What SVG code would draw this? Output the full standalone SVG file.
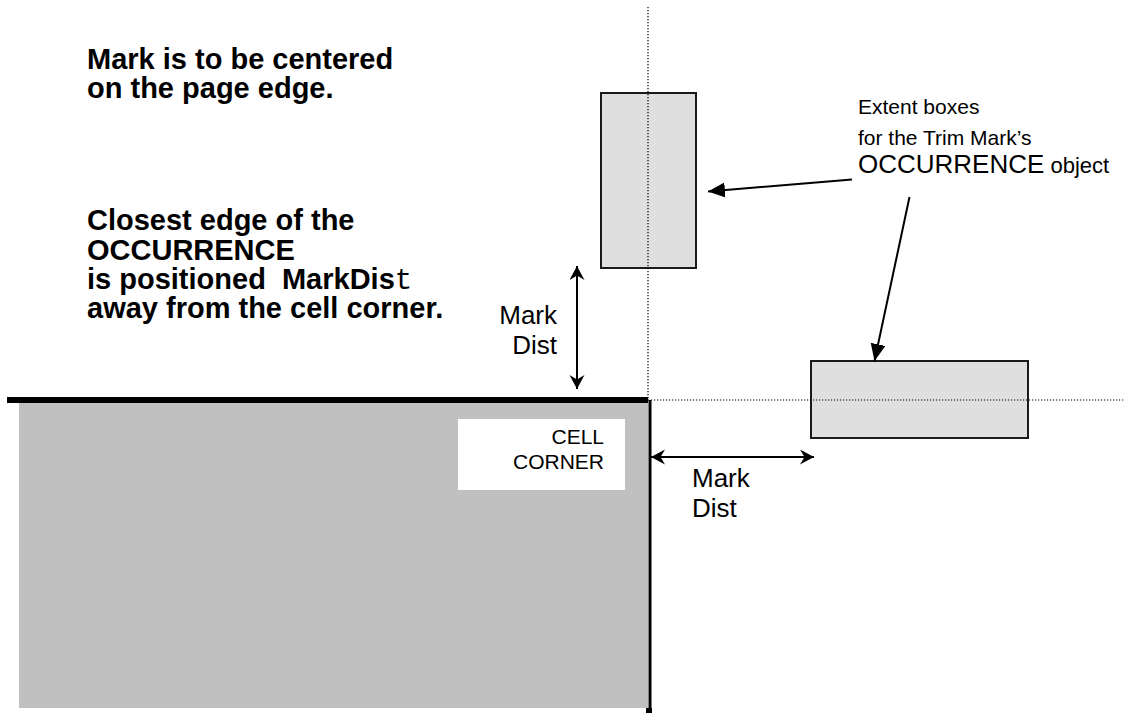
<svg xmlns="http://www.w3.org/2000/svg" width="1125" height="713" viewBox="0 0 1125 713">
<style>
.bold{font-family:"Liberation Sans",Arial,sans-serif;font-weight:bold;font-size:29px;fill:#000;white-space:pre}
.lbl{font-family:"Liberation Sans",Arial,sans-serif;font-size:26px;fill:#000}
.sm{font-family:"Liberation Sans",Arial,sans-serif;font-size:21px;fill:#000}
.box{fill:#dfdfdf;stroke:#1a1a1a;stroke-width:2}
.dot{stroke:#000;stroke-width:1.2;stroke-dasharray:1.2 1.8;fill:none}
.lead{stroke:#000;stroke-width:2;fill:none}
</style>
<defs>
<marker id="tri" markerUnits="userSpaceOnUse" markerWidth="18" markerHeight="16" refX="17" refY="7.5" orient="auto">
<path d="M0,0 L17,7.5 L0,15 Z" fill="#000"/>
</marker>
<marker id="stealth" markerUnits="userSpaceOnUse" markerWidth="16" markerHeight="16" refX="14" refY="7.5" orient="auto-start-reverse">
<path d="M14,7.5 L0,0 L4.5,7.5 L0,15 Z" fill="#000"/>
</marker>
</defs>
<g id="cell">
<rect x="19" y="403" width="629" height="305" fill="#c0c0c0"/>
<rect x="7" y="397" width="641" height="6" fill="#000"/>
<line x1="650" y1="400" x2="650" y2="713" stroke="#000" stroke-width="3"/>
<rect x="646" y="708" width="6" height="5" fill="#000"/>
</g>
<g id="cell-corner-label">
<rect x="458" y="419" width="167" height="71" fill="#fff"/>
<text class="sm" x="604" y="444" text-anchor="end">CELL</text>
<text class="sm" x="604" y="469" text-anchor="end">CORNER</text>
</g>
<g id="extent-box-top">
<rect class="box" x="601" y="93" width="95" height="175"/>
</g>
<g id="extent-box-right">
<rect class="box" x="811" y="361" width="217" height="77"/>
</g>
<g id="guides">
<line class="dot" x1="648" y1="7" x2="648" y2="400"/>
<line class="dot" x1="648" y1="400" x2="1125" y2="400"/>
</g>
<g id="text-left">
<text class="bold" x="87" y="69">Mark is to be centered</text>
<text class="bold" x="87" y="98">on the page edge.</text>
<text class="bold" x="87" y="230">Closest edge of the</text>
<text class="bold" x="87" y="260">OCCURRENCE</text>
<text class="bold" x="87" y="289">is positioned  MarkDis<tspan style="font-family:'Liberation Mono','Courier New',monospace;font-weight:normal">t</tspan></text>
<text class="bold" x="87" y="318">away from the cell corner.</text>
</g>
<g id="text-extent">
<text class="sm" x="858" y="114">Extent boxes</text>
<text class="sm" x="858" y="145">for the Trim Mark’s</text>
<text class="sm" x="858" y="173"><tspan style="font-size:26px">OCCURRENCE</tspan><tspan style="font-size:22px"> object</tspan></text>
</g>
<g id="markdist-labels">
<text class="lbl" x="557" y="324" text-anchor="end">Mark</text>
<text class="lbl" x="557" y="354" text-anchor="end">Dist</text>
<text class="lbl" x="692" y="487">Mark</text>
<text class="lbl" x="692" y="517">Dist</text>
</g>
<g id="connectors">
<line class="lead" x1="852" y1="179.5" x2="708" y2="191.5" marker-end="url(#tri)"/>
<line class="lead" x1="909.5" y1="197" x2="874.5" y2="361" marker-end="url(#tri)"/>
<line class="lead" x1="577" y1="266" x2="577" y2="389" marker-start="url(#stealth)" marker-end="url(#stealth)"/>
<line class="lead" x1="651" y1="457" x2="814" y2="457" marker-start="url(#stealth)" marker-end="url(#stealth)"/>
</g>
</svg>
